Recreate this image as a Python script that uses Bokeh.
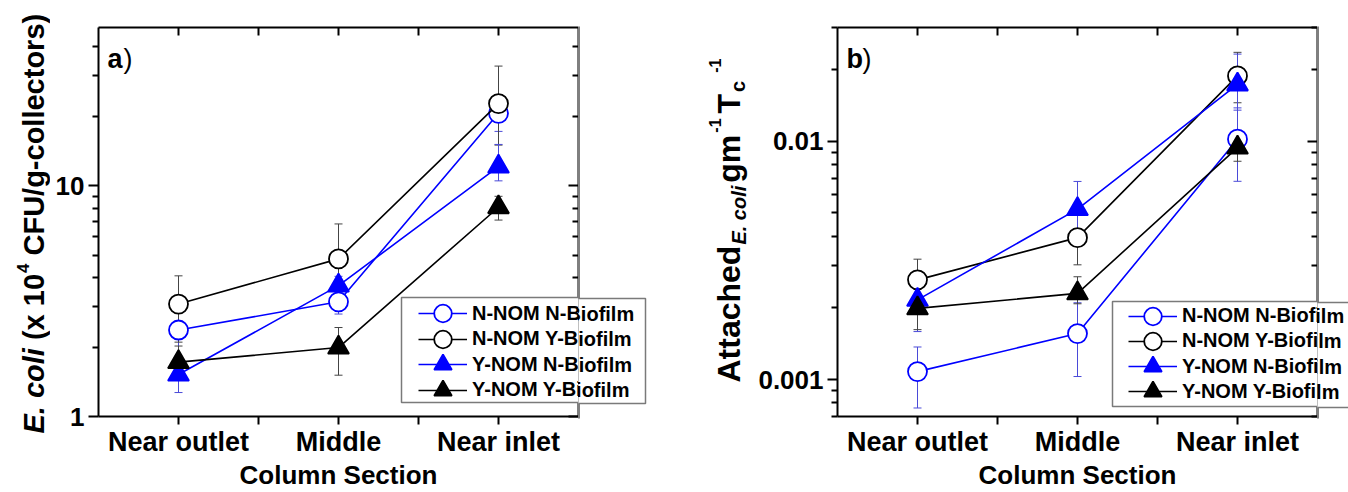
import math
from bokeh.plotting import figure
from bokeh.models import (Range1d, LogAxis, LinearAxis, FixedTicker, Label, Legend,
                          LegendItem, Whisker, TeeHead, ColumnDataSource, BoxAnnotation)
from bokeh.layouts import row, column
from bokeh.embed import file_html
from bokeh.resources import INLINE

# ---------------- data ----------------
categories = ["Near outlet", "Middle", "Near inlet"]
series_names = ["N-NOM N-Biofilm", "N-NOM Y-Biofilm", "Y-NOM N-Biofilm", "Y-NOM Y-Biofilm"]

# panel a: E. coli (x 10^4 CFU/g-collectors)
a_nn = [2.37, 3.14, 20.6]
a_nn_lo = [1.55, 2.78, 17.2]
a_nn_hi = [3.25, 3.50, 24.0]
a_ny = [3.07, 4.82, 22.7]
a_ny_lo = [2.10, 3.40, 15.0]
a_ny_hi = [4.07, 6.83, 33.0]
a_yn = [1.52, 3.69, 12.1]
a_yn_lo = [1.27, 3.35, 10.5]
a_yn_hi = [1.80, 4.05, 15.1]
a_yy = [1.72, 1.99, 8.07]
a_yy_lo = [1.45, 1.51, 7.10]
a_yy_hi = [2.02, 2.43, 9.00]

# panel b: Attached E. coli gm^-1 Tc^-1
b_nn = [0.00108, 0.00156, 0.0102]
b_nn_lo = [0.00076, 0.00103, 0.00679]
b_nn_hi = [0.00137, 0.0021, 0.0138]
b_ny = [0.00262, 0.00394, 0.0188]
b_ny_lo = [0.0021, 0.00303, 0.0145]
b_ny_hi = [0.0032, 0.0049, 0.0236]
b_yn = [0.00216, 0.00519, 0.0173]
b_yn_lo = [0.00159, 0.0039, 0.0135]
b_yn_hi = [0.00266, 0.00678, 0.0232]
b_yy = [0.00199, 0.0023, 0.0094]
b_yy_lo = [0.00162, 0.00208, 0.00824]
b_yy_hi = [0.0024, 0.0027, 0.0105]

a_major = [1, 10]
a_minor = [2, 3, 4, 5, 6, 7, 8, 9, 20, 30, 40]
b_major = [0.001, 0.01]
b_minor = [0.0007, 0.0008, 0.0009, 0.002, 0.003, 0.004, 0.005, 0.006, 0.007,
           0.008, 0.009, 0.02, 0.03]

x_title = "Column Section"

# ---------------- styles ----------------
FONT = "Liberation Sans"
BLUE = "#0000ff"
BLACK = "#000000"
styles = [
    dict(color=BLUE, marker="circle", fill="white", size=19, err="#4a4ad8"),
    dict(color=BLACK, marker="circle", fill="white", size=19, err="#444444"),
    dict(color=BLUE, marker="triangle", fill=BLUE, size=21, err="#4a4ad8"),
    dict(color=BLACK, marker="triangle", fill=BLACK, size=21, err="#444444"),
]

W_BOLD = {' ': 278, '(': 333, ')': 333, 'x': 556, '1': 556, '0': 556, '4': 556, 'C': 722,
          'F': 611, 'U': 722, '/': 278, 'g': 611, '-': 333, 'c': 556, 'o': 611, 'l': 278,
          'e': 556, 't': 333, 'r': 389, 's': 556, 'A': 722, 'a': 556, 'h': 611, 'd': 611,
          'm': 889, 'T': 611, 'E': 667, '.': 278, 'i': 278}

H = 492
FRAME_W = 480
FRAME_H = 390
TOP = 27
BOTTOM = H - TOP - FRAME_H   # 75


def text_w(s, size):
    return sum(W_BOLD.get(ch, 556) for ch in s) / 1000.0 * size


def add_rotated(p, pieces, x0, y0):
    y = y0
    for text, size, style, dx, gap in pieces:
        p.add_layout(Label(x=x0 + dx, y=y, x_units="screen", y_units="screen", text=text,
                           angle=math.pi / 2, text_font=FONT, text_font_size=f"{size}px",
                           text_font_style=style, text_align="left",
                           text_baseline="alphabetic", text_color="black"))
        y += text_w(text, size) + gap


def blank(width, height):
    f = figure(width=width, height=height, x_range=Range1d(0, 1), y_range=Range1d(0, 1),
               x_axis_type=None, y_axis_type=None, output_backend="svg",
               toolbar_location=None, min_border=0, outline_line_color=None)
    f.title.visible = False
    f.background_fill_color = "white"
    f.border_fill_color = "white"
    return f


def series_renderers(p, st, src):
    ln = p.line("x", "y", source=src, line_color=st["color"], line_width=1.6)
    sc = p.scatter("x", "y", source=src, marker=st["marker"], size=st["size"],
                   line_color=st["color"], fill_color=st["fill"], line_width=1.8)
    return ln, sc


def spine(p, left, right, top, bottom):
    p.add_layout(BoxAnnotation(left=left, right=right, top=top, bottom=bottom,
                               left_units="screen", right_units="screen",
                               top_units="screen", bottom_units="screen",
                               fill_color="black", fill_alpha=1.0, line_alpha=0,
                               level="underlay"))


def add_legend(p, rends, vx, vys, box):
    l, r, t, b = box
    p.add_layout(BoxAnnotation(left=l, right=r, top=t, bottom=b,
                               left_units="screen", right_units="screen",
                               top_units="screen", bottom_units="screen",
                               fill_color="white", fill_alpha=1.0,
                               line_color="#7a7a7a", line_width=1.5, line_alpha=1.0))
    for (ln, sc), name, vy in zip(rends, series_names, vys):
        p.add_layout(Legend(items=[LegendItem(label=name, renderers=[ln, sc])],
                            location=(vx, vy), glyph_width=49, glyph_height=44,
                            spacing=0, padding=0, margin=0, label_standoff=5,
                            label_height=20, label_text_font=FONT,
                            label_text_font_style="bold", label_text_font_size="20px",
                            label_text_color="black", border_line_alpha=0,
                            background_fill_alpha=0))


def make_panel(width, bl, y_lo, y_hi, data, major, minor, major_labels, tag):
    p = figure(width=width, height=H, x_range=Range1d(0.5, 3.5),
               y_range=Range1d(y_lo, y_hi), y_axis_type="log",
               output_backend="svg", toolbar_location=None,
               min_border_left=bl, min_border_right=0,
               min_border_top=TOP, min_border_bottom=BOTTOM)
    p.title.visible = False
    p.xgrid.visible = False
    p.ygrid.visible = False
    p.outline_line_color = None
    p.background_fill_color = "white"
    p.border_fill_color = "white"

    xt = [1, 1.5, 2, 2.5, 3]
    xlabels = {1: categories[0], 1.5: "", 2: categories[1], 2.5: "", 3: categories[2]}

    xa = p.xaxis[0]
    xa.ticker = FixedTicker(ticks=xt)
    xa.major_label_overrides = xlabels
    ya = p.yaxis[0]
    ya.ticker = FixedTicker(ticks=major, minor_ticks=minor)
    ya.major_label_overrides = major_labels

    for ax in (xa, ya):
        ax.axis_line_width = 2
        ax.major_tick_line_width = 2
        ax.minor_tick_line_width = 2
        ax.major_label_text_font = FONT
        ax.major_label_text_font_style = "bold"
        ax.major_label_text_color = "black"
    xa.major_tick_out = 8
    xa.major_tick_in = 0
    xa.major_label_text_font_size = "27px"
    xa.major_label_standoff = 2
    xa.axis_label = x_title
    xa.axis_label_text_font = FONT
    xa.axis_label_text_font_size = "26px"
    xa.axis_label_text_font_style = "bold"
    xa.axis_label_text_color = "black"
    xa.axis_label_standoff = 0
    ya.major_tick_out = 10
    ya.major_tick_in = 0
    ya.minor_tick_out = 6
    ya.minor_tick_in = 0
    ya.major_label_text_font_size = "26px"
    ya.major_label_standoff = 4

    ra = LogAxis(ticker=FixedTicker(ticks=major, minor_ticks=minor),
                 major_label_overrides={m: "" for m in major},
                 major_label_text_font_size="0px", major_label_text_alpha=0,
                 major_tick_in=10, major_tick_out=0, minor_tick_in=6, minor_tick_out=0,
                 axis_line_color=None, major_tick_line_width=2, minor_tick_line_width=2,
                 major_label_standoff=0)
    p.add_layout(ra, "right")
    ta = LinearAxis(ticker=FixedTicker(ticks=xt),
                    major_label_overrides={t: "" for t in xt},
                    major_label_text_font_size="0px", major_label_text_alpha=0,
                    major_tick_in=8, major_tick_out=0, minor_tick_line_color=None,
                    axis_line_width=2, major_tick_line_width=2, major_label_standoff=0)
    p.add_layout(ta, "above")

    # right spine (inner half), hidden behind the legend box
    spine(p, FRAME_W - 1, FRAME_W + 2, FRAME_H + 1, -1)

    xs = [i + 1 for i in range(len(categories))]
    rends = []
    for (vals, lo, hi), st in zip(data, styles):
        src = ColumnDataSource(dict(x=xs, y=vals, lo=lo, hi=hi))
        p.add_layout(Whisker(source=src, base="x", lower="lo", upper="hi",
                             line_color=st["err"], line_width=1,
                             lower_head=TeeHead(size=8, line_color=st["err"], line_width=1),
                             upper_head=TeeHead(size=8, line_color=st["err"], line_width=1)))
        rends.append(series_renderers(p, st, src))

    # panel tag
    p.add_layout(Label(x=9, y=358, x_units="screen", y_units="screen", text=tag,
                       text_font=FONT, text_font_size="27px", text_font_style="bold",
                       text_baseline="alphabetic", text_color="black"))
    p.add_layout(Label(x=9 + text_w(tag, 27) + 1, y=358, x_units="screen", y_units="screen",
                       text=")", text_font=FONT, text_font_size="27px",
                       text_font_style="normal", text_baseline="alphabetic",
                       text_color="black"))
    return p, rends


def dummy_rends(p):
    out = []
    for st in styles:
        out.append(series_renderers(p, st, ColumnDataSource(dict(x=[], y=[]))))
    return out


FB = TOP + FRAME_H   # frame bottom in page pixels (417)

# ---------------- panel a ----------------
pa, rends_a = make_panel(
    528, 48, 1, 48.5,
    [(a_nn, a_nn_lo, a_nn_hi), (a_ny, a_ny_lo, a_ny_hi),
     (a_yn, a_yn_lo, a_yn_hi), (a_yy, a_yy_lo, a_yy_hi)],
    a_major, a_minor, {1: "1", 10: "10"}, "a")
rows_a = [314, 339.5, 365, 390.5]
add_legend(pa, rends_a, 320, [FB - (c + 22) for c in rows_a], (303, 547, 119, 14))

ylab_a = blank(50, H)
add_rotated(ylab_a, [("E. coli", 29, "bold italic", 0, 8), ("(x 10", 29, "bold", 0, 1),
                     ("4", 17, "bold", -11, 8), ("CFU/g-collectors)", 29, "bold", 0, 0)],
            33, 59)

# ---------------- gap between panels ----------------
GAP_W = 175
gap = blank(GAP_W, H)
spine(gap, -2, 1, H - 26, H - 418)
add_legend(gap, dummy_rends(gap), 418 - 578, [H - (c + 22) for c in rows_a],
           (401 - 578, 645 - 578, H - 298, H - 403))
add_rotated(gap, [("Attached", 32, "bold", 0, 1), ("E. coli", 20, "bold italic", 10, 3),
                  ("gm", 32, "bold", 0, 2), ("-1", 16, "bold", -14, 5),
                  ("T", 32, "bold", 0, 2), ("c", 20, "bold", 9, 8),
                  ("-1", 16, "bold", -14, 0)],
            150, H - 382)

# ---------------- panel b ----------------
PB_LEFT = 837 - (578 + GAP_W)
pb, rends_b = make_panel(
    PB_LEFT + FRAME_W, PB_LEFT, 0.0007, 0.03,
    [(b_nn, b_nn_lo, b_nn_hi), (b_ny, b_ny_lo, b_ny_hi),
     (b_yn, b_yn_lo, b_yn_hi), (b_yy, b_yy_lo, b_yy_hi)],
    b_major, b_minor, {0.001: "0.001", 0.01: "0.01"}, "b")
rows_b = [316.7, 341.9, 367.1, 392.3]
add_legend(pb, rends_b, 291, [FB - (c + 22) for c in rows_b], (275, 523, 115, 10))

pad = blank(31, H)
spine(pad, -2, 1, H - 26, H - 418)
add_legend(pad, dummy_rends(pad), 1128 - 1317, [H - (c + 22) for c in rows_b],
           (1112 - 1317, 1360 - 1317, H - 302, H - 407))

layout = row(ylab_a, column(pa, spacing=0), gap, column(pb, spacing=0), pad, spacing=0)
open("out.html", "w").write(file_html(layout, INLINE))
